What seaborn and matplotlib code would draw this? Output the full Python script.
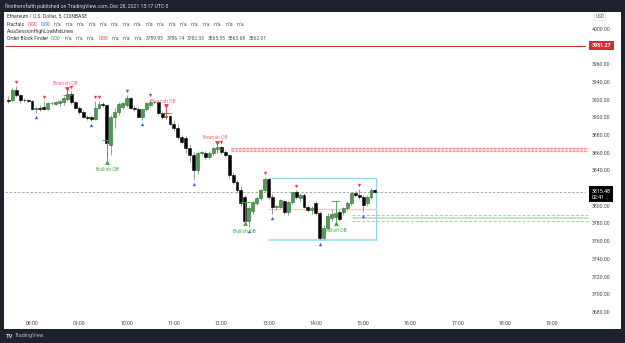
import matplotlib
matplotlib.use("Agg")
import matplotlib.pyplot as plt
import seaborn as sns
import pandas as pd
import numpy as np
from matplotlib.patches import Rectangle

# ETH/USD 5 minute candles, 07:30 .. 15:15 (Dec 28, 2021)
opens = [3920, 3920, 3931, 3925, 3920, 3919.5, 3919, 3909, 3911, 3912,
         3909.5, 3916, 3915.5, 3916, 3917, 3921, 3926.5, 3917.5, 3911, 3906,
         3900.5, 3900, 3898, 3910.6, 3915, 3913.5, 3869, 3900.5, 3906, 3912,
         3914, 3922, 3910.6, 3910, 3901, 3909.5, 3914, 3917.5, 3917, 3905,
         3901, 3902, 3893, 3888, 3878, 3877, 3865, 3857.5, 3840.5, 3859.8,
         3860, 3855, 3860, 3865, 3866.5, 3861, 3857.5, 3835, 3827, 3818,
         3810, 3783, 3794, 3803, 3809, 3818, 3830, 3810, 3798.7, 3799,
         3805, 3793, 3804, 3815.6, 3809, 3812, 3799, 3795.5, 3803, 3792,
         3764, 3775, 3786, 3787, 3793, 3793, 3797, 3803, 3814.5, 3812,
         3810, 3803, 3810, 3818]
highs = [3924, 3933, 3935.5, 3927, 3922, 3921, 3920, 3913, 3914, 3918.6,
         3917, 3917.5, 3918, 3919.5, 3924, 3929, 3929.5, 3919, 3913, 3908,
         3903, 3902, 3918.6, 3918.6, 3917, 3915, 3903, 3911, 3917, 3917.5,
         3925.4, 3923.5, 3913, 3911.5, 3911, 3917, 3921, 3919, 3918, 3907,
         3909, 3903, 3897, 3893, 3880, 3879, 3870, 3861, 3862, 3862,
         3862, 3862, 3867, 3868, 3868, 3863, 3859, 3838, 3829, 3822,
         3812, 3800, 3806, 3810, 3819, 3832.6, 3831.5, 3813, 3801, 3808,
         3807, 3806, 3816, 3818, 3814, 3814, 3801, 3800, 3806, 3794,
         3778, 3792, 3796, 3795, 3795, 3799, 3805, 3816, 3817, 3819,
         3812, 3812, 3820, 3819]
lows = [3916, 3917, 3923, 3916, 3917, 3917, 3908, 3905, 3907, 3908,
        3908, 3914.5, 3914, 3913, 3914, 3918, 3915, 3909, 3904, 3899,
        3897, 3896, 3896.5, 3909, 3912, 3854, 3858, 3888, 3903, 3910,
        3912, 3909, 3907, 3900, 3897.5, 3907, 3912, 3915, 3903, 3898,
        3898, 3891, 3885, 3876, 3870, 3860, 3850, 3829, 3836, 3857,
        3853, 3853, 3858, 3861, 3859, 3855, 3832, 3825, 3815, 3800,
        3784, 3776, 3791, 3801, 3807, 3816, 3808, 3791, 3795, 3797,
        3791, 3790, 3802, 3808, 3806, 3797, 3793, 3791, 3790, 3761.4,
        3762, 3773, 3783, 3785, 3783, 3790, 3795, 3801, 3810, 3808,
        3793, 3800, 3808, 3815]
closes = [3919, 3931, 3925, 3920, 3919.5, 3919, 3909.5, 3911, 3910, 3909.5,
          3916, 3916.3, 3917.5, 3918, 3922, 3926.5, 3917.5, 3911, 3906, 3901,
          3899, 3898, 3910.6, 3915, 3913.5, 3871, 3900.5, 3906, 3915, 3916,
          3922, 3910.6, 3909.5, 3901, 3909.5, 3916, 3917.5, 3917, 3905, 3901,
          3902, 3893, 3888, 3878, 3872, 3865.4, 3857.5, 3840.5, 3859.8, 3860,
          3855.2, 3860, 3865.4, 3866.5, 3861, 3857.5, 3835, 3827, 3818, 3803,
          3783, 3797, 3804, 3809, 3818, 3830, 3810, 3798.7, 3799, 3806.6,
          3793, 3804, 3815.6, 3810, 3812, 3799, 3795.5, 3798, 3792, 3764,
          3775, 3788, 3791, 3792, 3785, 3797, 3803, 3814.5, 3812, 3810,
          3801, 3810, 3818, 3815.48]

# indicator marks (candle index)
fractal_up = [2, 9, 16, 22, 23, 30, 36, 54, 65, 73, 89]
fractal_down = [7, 21, 34, 47, 61, 67, 79, 90]
bearish_ob = [15, 40, 53]
bullish_ob = [25, 60, 83]

# Order Block Finder zone levels
bear_zone = [3865.35, 3863.68, 3862.01]
bull_zone = [3789.95, 3786.14, 3782.33]
bear_zone_start = 56.5
bull_zone_start = 87.2

# session box (high / low) from candle 66 to the last one
session_start = 66
session_high = 3831.5
session_low = 3761.4

resistance = 3981.27
last_price = 3815.48
countdown = "02:41"

hour_ticks = list(range(8, 20))
price_ticks = list(range(3680, 4001, 20))

W, H = 625, 343
sns.set_theme(style="white")
plt.rcParams["font.family"] = ["Roboto", "DejaVu Sans"]

df = pd.DataFrame({"open": opens, "high": highs, "low": lows, "close": closes})
df["t"] = 7.5 + np.arange(len(df)) / 12.0
df["up"] = df["close"] >= df["open"]

fig = plt.figure(figsize=(W / 100, H / 100), dpi=100, facecolor="#1e222d")
fig.patches.append(Rectangle((4 / W, 1 - 329 / H), 617 / W, 317 / H,
                             transform=fig.transFigure, facecolor="white",
                             edgecolor="none", zorder=-10))
ax = fig.add_axes([5 / W, 28 / H, 581 / W, 303 / H])
ax.set_facecolor("none")
ax.set_xlim(7.429, 19.712)
ax.set_ylim(3676.5, 4019.2)
for s in ax.spines.values():
    s.set_visible(False)

green, black, wick = "#4c9c50", "#050505", "#8a8a8a"
bw = 0.062

# horizontal levels
ax.axhline(resistance, color="#d32f2f", lw=0.7, zorder=1)
ax.axhline(last_price, color="#9e9e9e", lw=0.6, ls=(0, (3, 2)), zorder=1)

tb = 7.5 + bear_zone_start / 12
tg = 7.5 + bull_zone_start / 12
xr = 19.75
ax.fill_between([tb, xr], bear_zone[2], bear_zone[0], color="#fbd6d6", lw=0, zorder=1)
for lv in (bear_zone[0], bear_zone[2]):
    ax.plot([tb, xr], [lv, lv], color="#f28b8b", lw=0.9, ls=(0, (2, 1)), zorder=1, clip_on=False)
ax.plot([tg, xr], [bull_zone[1], bull_zone[1]], color="#b9dfb9", lw=1.2, zorder=1, clip_on=False)
for lv in (bull_zone[0], bull_zone[2]):
    ax.plot([tg, xr], [lv, lv], color="#9ed39e", lw=0.7, ls=(0, (3, 2)), zorder=1, clip_on=False)

# session box
ts = 7.5 + session_start / 12
te = df["t"].iloc[-1] + 0.03
ax.plot([ts, te], [session_high, session_high], color="#86d6e6", lw=0.8, zorder=1)
ax.plot([ts, te], [session_low, session_low], color="#a6e3ee", lw=1.4, zorder=1)
ax.plot([te, te], [session_low, session_high], color="#86d6e6", lw=0.8, zorder=1)
mid = (session_high + session_low) / 2
ax.plot([ts, te], [mid, mid], color="#ffcf8f", lw=0.9, zorder=1)

# candles
ax.vlines(df["t"], df["low"], df["high"], color=wick, lw=0.6, zorder=2)
body_lo = np.minimum(df["open"], df["close"])
body_h = np.maximum(np.abs(df["close"] - df["open"]), 0.6)
colors = np.where(df["up"], green, black)
edges = np.where(df["up"], "#2f6e33", black)
ax.bar(df["t"], body_h, bottom=body_lo, width=bw, color=colors,
       edgecolor=edges, linewidth=0.4, zorder=3)

# fractals and order block marks
fu = df.iloc[fractal_up]
fd = df.iloc[fractal_down]
sns.scatterplot(x=fu["t"], y=fu["high"] + 4.5, marker="v", color="#f23645",
                s=6, linewidth=0, ax=ax, zorder=4)
sns.scatterplot(x=fd["t"], y=fd["low"] - 4.5, marker="^", color="#2962ff",
                s=6, linewidth=0, ax=ax, zorder=4)
bo = df.iloc[bearish_ob]
uo = df.iloc[bullish_ob]
sns.scatterplot(x=bo["t"], y=bo["high"] + 3.5, marker="v", color="#f23645",
                s=12, linewidth=0, ax=ax, zorder=4)
sns.scatterplot(x=uo["t"], y=uo["low"] - 4, marker="^", color="#43a047",
                s=12, linewidth=0, ax=ax, zorder=4)
for _, r in bo.iterrows():
    ax.vlines(r["t"], r["high"] - 8, r["high"] + 3, color="#f23645", lw=0.6, zorder=4)
    ax.hlines(r["high"] - 4, r["t"] - 0.1, r["t"] + 0.1, color="#f23645", lw=0.6, zorder=4)
    ax.text(r["t"] - 0.05, r["high"] + 9, "Bearish OB", color="#f26d6d",
            fontsize=3.6, ha="center", va="center", zorder=5)
for _, r in uo.iterrows():
    ax.vlines(r["t"], r["low"] - 2, r["low"] + 20, color="#43a047", lw=0.6, zorder=4)
    ax.hlines(r["low"] + 20, r["t"] - 0.1, r["t"] + 0.1, color="#43a047", lw=0.6, zorder=4)
    ax.text(r["t"], r["low"] - 13, "Bullish OB", color="#4caf50",
            fontsize=3.6, ha="center", va="center", zorder=5)
ax.set_xlabel("")
ax.set_ylabel("")

# axes ticks (labels under the price badges are hidden, as on the chart)
ax.set_xticks(hour_ticks)
ax.set_xticklabels([f"{h:02d}:00" for h in hour_ticks])
ax.yaxis.tick_right()
ax.set_yticks(price_ticks)
ax.set_yticklabels(["" if abs(p - resistance) < 8 or abs(p - last_price) < 8 else f"{p:.2f}"
                    for p in price_ticks])
ax.tick_params(axis="both", length=0, labelsize=3.7, colors="#444444")
ax.tick_params(axis="x", pad=4)
ax.tick_params(axis="y", pad=4)

ax.annotate(f"{resistance:.2f}", xy=(1.0, resistance), xycoords=("axes fraction", "data"),
            xytext=(4, 0), textcoords="offset points", fontsize=3.8, color="white",
            fontweight="bold", va="center", ha="left", zorder=6, annotation_clip=False,
            bbox=dict(boxstyle="square,pad=0.45", fc="#d32f2f", ec="none"))
ax.annotate(f"{last_price:.2f}\n{countdown}", xy=(1.0, last_price),
            xycoords=("axes fraction", "data"), xytext=(4, 2.5), textcoords="offset points",
            fontsize=3.8, color="white", va="top", ha="left", linespacing=1.3,
            zorder=6, annotation_clip=False,
            bbox=dict(boxstyle="square,pad=0.45", fc="black", ec="none"))
fig.text(600 / W, 1 - 17 / H, "USD", fontsize=3.4, color="#555555", ha="center", va="center",
         bbox=dict(boxstyle="round,pad=0.3", fc="white", ec="#cccccc", lw=0.4))

# header and legend
r = fig.canvas.get_renderer()


def text_run(x, y, parts, size=3.6):
    for s, c, gap in parts:
        t = fig.text(x / W, 1 - y / H, s, color=c, fontsize=size, ha="left", va="center")
        x = t.get_window_extent(renderer=r).x1 + gap


text_run(5, 6, [("flinitherofaith published on TradingView.com, Dec 28, 2021 15:17 UTC-5",
                 "#d1d4dc", 0)], size=3.7)
dark, na = "#333333", "#555555"
text_run(7, 16, [("Ethereum / U.S. Dollar, 5, COINBASE", dark, 0)])
text_run(7, 24, [("Fractals", dark, 3), ("0.00", "#f23645", 3), ("0.00", "#2962ff", 3.5)]
         + [("n/a", na, 3.8)] * 17)
text_run(7, 31, [("AsiaSessionHighLowMidLines", dark, 0)])
text_run(7, 38.5, [("Order Block Finder", dark, 3), ("0.00", "#43a047", 3.5)]
         + [("n/a", na, 3.8)] * 3 + [("0.00", "#f23645", 3.5)] + [("n/a", na, 3.8)] * 3
         + [(f"{v:.2f}", na, 2.5) for v in bull_zone + bear_zone])

fig.text(6 / W, 1 - 336 / H, "TV", fontsize=4.2, color="#d1d4dc", fontweight="bold",
         ha="left", va="center")
fig.text(15 / W, 1 - 336 / H, "TradingView", fontsize=3.8, color="#b2b5be",
         ha="left", va="center")

fig.savefig("out.png", dpi=100, facecolor=fig.get_facecolor())
